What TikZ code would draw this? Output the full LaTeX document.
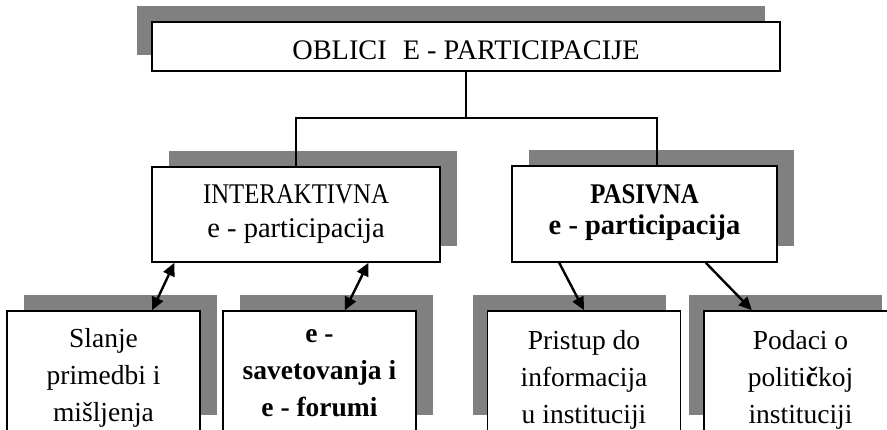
\documentclass[tikz,border=0pt]{standalone}
\usepackage{fontspec}
\setmainfont{Liberation Serif}
\newfontfamily\uski{Liberation Serif}[FakeStretch=0.87]
\usetikzlibrary{arrows.meta,shadows,calc}
\definecolor{sjena}{HTML}{808080}

\begin{document}
\begin{tikzpicture}[x=1pt,y=-1pt,
  kutija/.style={draw=black,fill=white,line width=1.6pt,inner sep=0pt},
  lijevo/.style={general shadow={fill=sjena,shadow xshift=-15pt,shadow yshift=16pt}},
  desno/.style={general shadow={fill=sjena,shadow xshift=17pt,shadow yshift=16pt}},
  tekst/.style={anchor=north,align=center,inner sep=0pt},
  veza/.style={line width=1.1pt},
  strelica/.style={line width=2.4pt,-{Triangle[length=13pt,width=12pt]}},
  dvostruka/.style={line width=2.4pt,{Triangle[length=13pt,width=12pt]}-{Triangle[length=13pt,width=12pt]}}]
\path[use as bounding box,fill=white] (0,0) rectangle (887,430);
\clip (0,0) rectangle (887,430);
% naslov
\node[kutija,lijevo,minimum width=628pt,minimum height=49pt] (oblici) at (466,46.5) {};
\node[tekst,font=\fontsize{28.3}{32}\selectfont] (oblici-t) at ([yshift=-19.5pt]oblici.north) {OBLICI\hspace{16pt}E - PARTICIPACIJE};
% drugi nivo
\node[kutija,desno,minimum width=288pt,minimum height=95pt] (interaktivna) at (296,214.5) {};
\node[tekst,font=\fontsize{28.5}{34}\selectfont] (interaktivna-t) at ([yshift=-18pt]interaktivna.north) {{\uski INTERAKTIVNA}\\e - participacija};
\node[kutija,desno,minimum width=265pt,minimum height=96pt] (pasivna) at (644.5,214) {};
\node[tekst,font=\bfseries\fontsize{28.5}{31}\selectfont] (pasivna-t) at ([yshift=-19pt]pasivna.north) {{\uski PASIVNA}\\e - participacija};
% treci nivo
\foreach \ime/\x/\sjena/\dy/\f/\tekst in {
  slanje/103.5/desno/18.5/\mdseries/{Slanje\\primedbi i\\mišljenja},
  savetovanja/319.5/desno/19/\bfseries/{e -\\savetovanja i\\e - forumi},
  pristup/584/lijevo/20/\mdseries/{Pristup do\\informacija\\u instituciji},
  podaci/800.5/lijevo/20/\mdseries/{Podaci o\\politi\textbf{č}koj\\instituciji}}{
  \node[kutija,\sjena,minimum width=193pt,minimum height=120pt] (\ime) at (\x,371) {};
  \node[tekst,font=\f\fontsize{27.5}{37}\selectfont] (\ime-t) at ([yshift=-\dy pt]\ime.north) {\tekst};
}
% veze
\coordinate (grana) at (466,118);
\draw[veza] (oblici.south) -- (grana);
\draw[veza] (interaktivna.north) |- (grana) -| ([xshift=12.5pt]pasivna.north);
\draw[dvostruka] ($(interaktivna.south west)!0.08!(interaktivna.south east)$) -- ($(slanje.north west)!0.75!(slanje.north east)$);
\draw[dvostruka] ($(interaktivna.south west)!0.75!(interaktivna.south east)$) -- ($(savetovanja.north west)!0.63!(savetovanja.north east)$);
\draw[strelica] ($(pasivna.south west)!0.18!(pasivna.south east)$) -- (pristup.north);
\draw[strelica] ($(pasivna.south west)!0.73!(pasivna.south east)$) -- ($(podaci.north west)!0.25!(podaci.north east)$);
\end{tikzpicture}
\end{document}
